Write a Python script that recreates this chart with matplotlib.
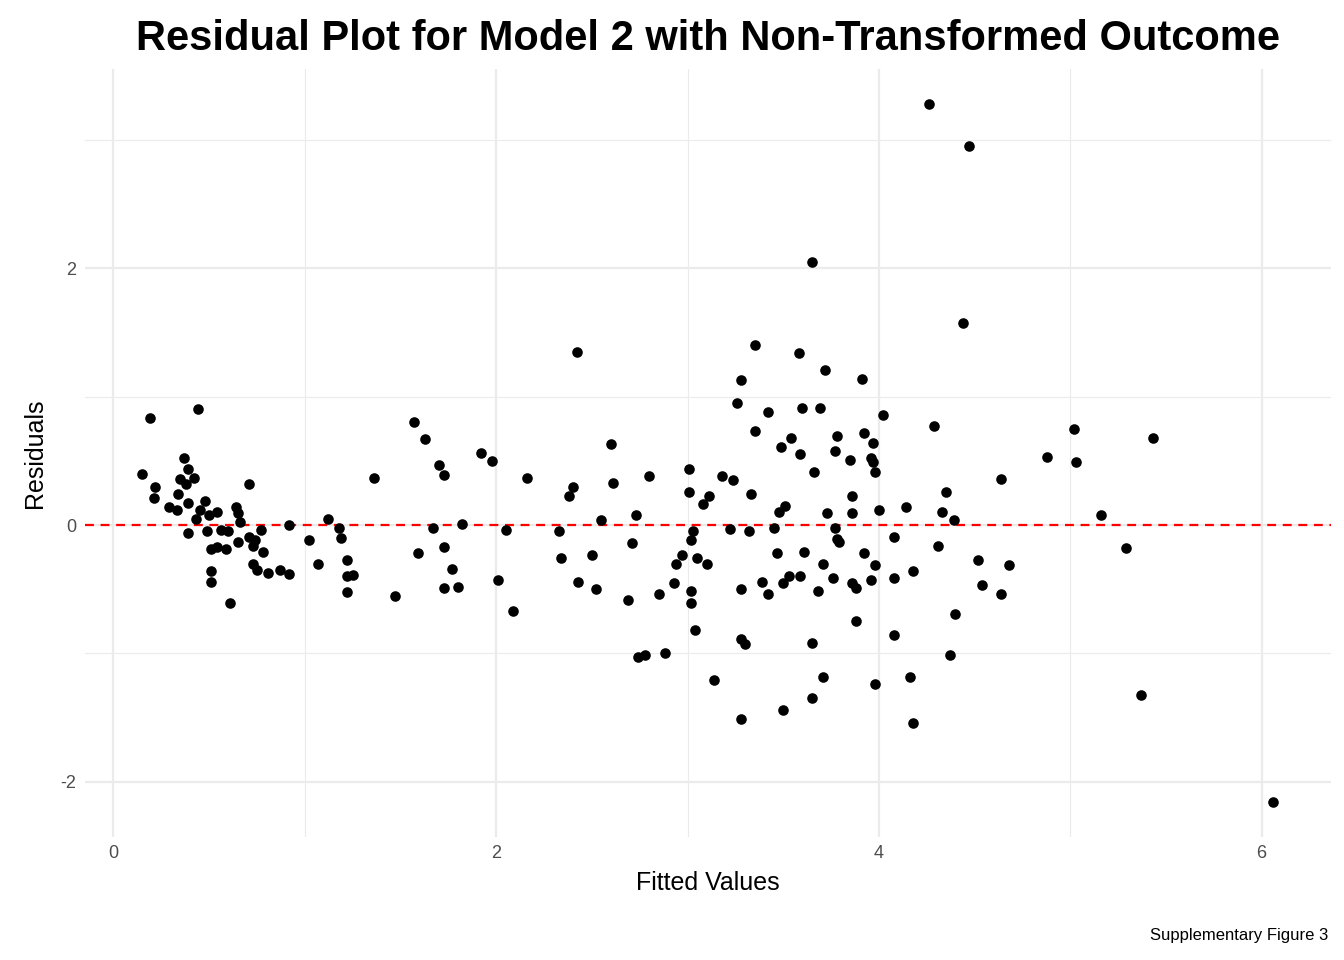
import matplotlib
matplotlib.use("Agg")
import matplotlib.pyplot as plt
from matplotlib.ticker import MultipleLocator

fitted = [0.19,0.44,0.37,0.39,0.15,0.35,0.42,0.38,0.22,0.71,0.21,0.34,0.39,0.48,0.29,0.33,0.45,0.64,0.54,0.50,
          0.43,0.65,0.66,0.92,0.39,0.49,0.56,0.60,0.77,0.65,0.71,0.74,0.73,0.78,0.51,0.54,0.59,1.02,1.07,0.73,
          0.75,0.81,0.87,0.92,0.51,0.51,0.61,
          1.12,1.18,1.19,1.22,1.22,1.22,1.25,1.36,1.47,
          1.57,1.63,1.59,1.67,1.70,1.73,1.73,1.73,1.77,1.80,1.82,
          1.92,1.98,2.01,2.05,2.09,2.16,
          2.33,2.34,2.38,2.40,2.42,2.43,2.50,2.52,2.55,2.60,2.61,
          2.69,2.71,2.73,2.74,2.78,2.80,2.85,2.88,2.93,2.94,2.97,3.01,3.01,3.02,3.02,3.02,3.03,3.04,3.05,3.08,3.10,3.11,3.14,
          3.18,3.22,3.24,3.26,3.28,3.28,3.28,3.28,3.30,3.32,3.33,3.35,3.35,3.39,3.42,3.42,3.45,3.47,3.48,3.49,3.50,3.50,3.51,
          3.53,3.54,3.58,3.59,3.59,3.60,3.61,3.65,3.65,3.65,3.66,3.68,3.69,3.71,3.72,3.71,3.73,3.76,3.77,3.77,3.78,3.78,3.79,
          3.85,3.86,3.86,3.86,3.88,3.88,3.91,3.92,3.92,3.96,3.96,3.97,3.97,3.98,3.98,3.98,4.00,4.02,4.08,4.08,4.08,4.14,4.16,
          4.18,4.18,4.26,4.29,4.31,4.33,4.35,4.37,4.39,4.40,4.44,4.47,4.52,4.54,4.64,4.64,4.68,4.88,5.02,5.03,5.16,5.29,5.37,
          5.43,6.06]
residuals = [0.83,0.90,0.52,0.44,0.40,0.36,0.37,0.32,0.30,0.32,0.21,0.24,0.17,0.19,0.14,0.12,0.12,0.14,0.10,0.08,
             0.05,0.09,0.02,0.00,-0.06,-0.05,-0.04,-0.05,-0.04,-0.13,-0.09,-0.12,-0.16,-0.21,-0.19,-0.17,-0.19,-0.12,-0.30,-0.30,
             -0.35,-0.37,-0.35,-0.38,-0.36,-0.44,-0.61,
             0.05,-0.02,-0.10,-0.27,-0.40,-0.52,-0.39,0.37,-0.55,
             0.80,0.67,-0.22,-0.02,0.47,0.39,-0.17,-0.49,-0.34,-0.48,0.01,
             0.56,0.50,-0.43,-0.04,-0.67,0.37,
             -0.05,-0.26,0.23,0.30,1.35,-0.44,-0.23,-0.50,0.04,0.63,0.33,
             -0.58,-0.14,0.08,-1.03,-1.01,0.38,-0.54,-1.00,-0.45,-0.30,-0.23,0.44,0.26,-0.12,-0.51,-0.61,-0.05,-0.82,-0.26,0.16,-0.30,0.23,-1.21,
             0.38,-0.03,0.35,0.95,1.13,-1.51,-0.89,-0.50,-0.93,-0.05,0.24,1.40,0.73,-0.44,0.88,-0.54,-0.02,-0.22,0.10,0.61,-0.45,-1.44,0.15,
             -0.40,0.68,1.34,-0.40,0.55,0.91,-0.21,2.05,-0.92,-1.35,0.41,-0.51,0.91,-0.30,1.21,-1.18,0.09,-0.41,0.58,-0.02,0.69,-0.11,-0.13,
             0.51,0.23,0.09,-0.45,-0.49,-0.75,1.14,0.72,-0.22,0.52,-0.43,0.49,0.64,0.41,-0.31,-1.24,0.12,0.86,-0.41,-0.09,-0.86,0.14,-1.18,
             -0.36,-1.54,3.28,0.77,-0.16,0.10,0.26,-1.01,0.04,-0.69,1.57,2.95,-0.27,-0.47,0.36,-0.54,-0.31,0.53,0.75,0.49,0.08,-0.18,-1.32,
             0.68,-2.16]

title = "Residual Plot for Model 2 with Non-Transformed Outcome"
caption = "Supplementary Figure 3"

plt.rcParams['font.family'] = ['Liberation Sans', 'DejaVu Sans']
plt.rcParams['axes.unicode_minus'] = False
fig = plt.figure(figsize=(13.44, 9.6), dpi=100)
ax = fig.add_axes([0.063, 0.128, 0.927, 0.800])
ax.scatter(fitted, residuals, s=58, color='black', zorder=3, linewidths=0)
ax.axhline(0, color='red', linestyle=(0, (4, 3)), linewidth=1.6, zorder=2)
ax.set_xlim(-0.15, 6.36)
ax.set_ylim(-2.43, 3.55)
ax.xaxis.set_major_locator(MultipleLocator(2))
ax.xaxis.set_minor_locator(MultipleLocator(1))
ax.yaxis.set_major_locator(MultipleLocator(2))
ax.yaxis.set_minor_locator(MultipleLocator(1))
ax.grid(which='major', color='#ebebeb', linewidth=1.6)
ax.grid(which='minor', color='#ebebeb', linewidth=0.8)
ax.set_axisbelow(True)
for s in ax.spines.values():
    s.set_visible(False)
ax.tick_params(which='both', length=0, labelsize=13, labelcolor='#4d4d4d', pad=6)
ax.set_xlabel("Fitted Values", fontsize=18, labelpad=6)
ax.set_ylabel("Residuals", fontsize=18, labelpad=10)
ax.set_title(title, fontsize=30, fontweight='bold', pad=14)
fig.text(0.988, 0.018, caption, ha='right', va='bottom', fontsize=12)
fig.savefig("out.png", dpi=100)
